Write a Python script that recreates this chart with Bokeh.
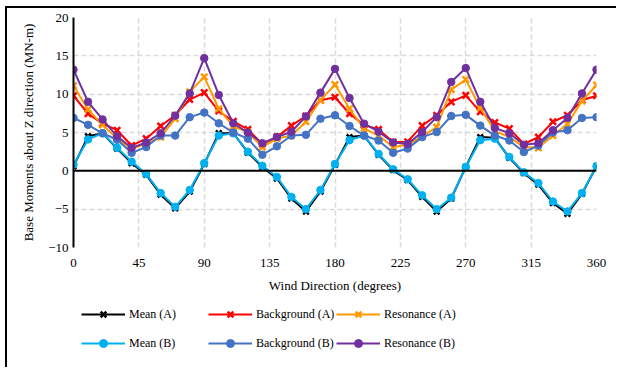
from bokeh.plotting import figure
from bokeh.layouts import column
from bokeh.models import Range1d, FixedTicker, Span, Legend, LegendItem
from bokeh.embed import file_html
from bokeh.resources import INLINE

# Wind direction (degrees)
directions = [0, 10, 20, 30, 40, 50, 60, 70, 80, 90,
              100, 110, 120, 130, 140, 150, 160, 170, 180,
              190, 200, 210, 220, 230, 240, 250, 260, 270,
              280, 290, 300, 310, 320, 330, 340, 350, 360]

# Base moments about Z direction (MN-m)
mean_a = [0.6, 4.5, 4.9, 2.9, 1.0, -0.5, -3.1, -4.9, -2.7, 0.9,
          4.9, 4.9, 2.4, 0.5, -1.0, -3.6, -5.3, -2.7, 0.8,
          4.4, 4.6, 2.1, 0.1, -1.2, -3.4, -5.3, -3.6, 0.5,
          4.4, 4.3, 1.7, -0.3, -1.8, -4.2, -5.6, -3.0, 0.6]
background_a = [9.8, 7.45, 6.15, 5.3, 3.3, 4.2, 5.85, 7.25, 9.3, 10.2,
                7.8, 6.45, 5.4, 3.5, 4.4, 5.9, 7.15, 9.2, 9.6,
                7.45, 6.0, 5.4, 3.75, 3.8, 5.9, 7.25, 9.0, 9.85,
                7.7, 6.3, 5.5, 3.5, 4.4, 6.4, 7.25, 9.2, 9.8]
resonance_a = [11.1, 8.0, 6.0, 4.2, 2.9, 3.5, 4.4, 6.8, 10.3, 12.25,
               8.1, 5.8, 5.05, 3.1, 4.2, 4.6, 6.4, 9.2, 11.25,
               8.1, 5.5, 4.6, 3.1, 3.4, 4.5, 5.7, 10.6, 11.9,
               8.2, 5.2, 4.4, 3.1, 3.0, 4.6, 6.1, 9.1, 11.2]
mean_b = [0.8, 4.1, 4.9, 3.0, 1.2, -0.4, -2.9, -4.7, -2.5, 1.0,
          4.6, 4.9, 2.5, 0.65, -0.8, -3.4, -5.0, -2.5, 0.9,
          4.0, 4.6, 2.2, 0.2, -1.1, -3.2, -5.0, -3.5, 0.5,
          4.0, 4.2, 1.8, -0.2, -1.6, -4.0, -5.3, -2.9, 0.6]
background_b = [6.9, 6.0, 4.9, 4.05, 2.35, 3.1, 4.6, 4.6, 7.0, 7.6,
                6.2, 5.0, 4.2, 2.1, 3.2, 4.6, 4.7, 6.8, 7.25,
                5.85, 4.6, 3.95, 2.35, 2.9, 4.4, 5.05, 7.15, 7.3,
                5.9, 4.6, 3.95, 2.45, 3.3, 5.0, 5.3, 6.9, 7.0]
resonance_b = [13.2, 9.0, 6.7, 4.5, 3.0, 3.7, 4.9, 7.2, 10.1, 14.7,
               9.9, 6.2, 5.0, 3.6, 4.4, 5.1, 7.1, 10.2, 13.3,
               9.5, 6.15, 5.1, 3.7, 3.5, 5.05, 7.0, 11.6, 13.4,
               9.0, 5.6, 4.9, 3.4, 3.6, 5.3, 6.9, 10.1, 13.2]

x_ticks = [0, 45, 90, 135, 180, 225, 270, 315, 360]
y_ticks = [-10, -5, 0, 5, 10, 15, 20]

FONT = "Liberation Serif"

# main chart
p = figure(width=611, height=295, output_backend="svg", toolbar_location=None,
           x_range=Range1d(0, 360), y_range=Range1d(-10, 20),
           min_border_left=66, min_border_right=22,
           min_border_top=9, min_border_bottom=56)
p.background_fill_color = "white"
p.border_fill_color = "white"
p.outline_line_color = None

for g in (p.xgrid, p.ygrid):
    g.grid_line_color = "#D9D9D9"
    g.grid_line_dash = "5 3"
    g.grid_line_width = 1.5
p.xgrid.ticker = FixedTicker(ticks=x_ticks)
p.ygrid.ticker = FixedTicker(ticks=y_ticks)

p.xaxis.ticker = FixedTicker(ticks=x_ticks)
p.yaxis.ticker = FixedTicker(ticks=y_ticks)
p.xaxis.axis_line_color = None
p.yaxis.axis_line_color = "black"
p.yaxis.axis_line_width = 2
for ax in (p.xaxis, p.yaxis):
    ax.major_tick_line_color = None
    ax.minor_tick_line_color = None
    ax.major_tick_out = 0
    ax.major_tick_in = 0
    ax.major_label_text_font = FONT
    ax.major_label_text_font_size = "13px"
    ax.major_label_text_color = "black"
    ax.axis_label_text_font = FONT
    ax.axis_label_text_font_size = "13px"
    ax.axis_label_text_font_style = "normal"
    ax.axis_label_text_color = "black"
p.xaxis.axis_label = "Wind Direction (degrees)"
p.yaxis.axis_label = "Base Moments about Z direction (MN-m)"
p.xaxis.major_label_standoff = 11
p.xaxis.axis_label_standoff = 8
p.yaxis.major_label_standoff = 5
p.yaxis.axis_label_standoff = 9

# zero line
p.add_layout(Span(location=0, dimension="width", line_color="black", line_width=2))

series = [
    ("Mean (A)", mean_a, "black", "x", 8),
    ("Background (A)", background_a, "#FF0000", "x", 9),
    ("Resonance (A)", resonance_a, "#FF9900", "x", 9),
    ("Mean (B)", mean_b, "#00B0F0", "circle", 7.5),
    ("Background (B)", background_b, "#4472C4", "circle", 7.5),
    ("Resonance (B)", resonance_b, "#7030A0", "circle", 7.5),
]


def draw_series(fig, xs, ys, color, marker, size):
    ln = fig.line(xs, ys, line_color=color, line_width=2)
    if marker == "x":
        mk = fig.scatter(xs, ys, marker="x", size=size,
                         line_color=color, line_width=2.5)
    else:
        mk = fig.scatter(xs, ys, marker="circle", size=size,
                         fill_color=color, line_color=color)
    return ln, mk


for name, vals, color, marker, size in series:
    draw_series(p, directions, vals, color, marker, size)

# legend strip under the chart; its range sits above the data so only
# the legend entries are visible here
q = figure(width=611, height=66, output_backend="svg", toolbar_location=None,
           x_axis_location=None, y_axis_location=None,
           x_range=Range1d(0, 360), y_range=Range1d(100, 101),
           min_border=0)
q.background_fill_color = "white"
q.border_fill_color = "white"
q.outline_line_color = None
q.grid.visible = False

col_x = [8, 135, 263]
row_y = [45, 16]
for i, (name, vals, color, marker, size) in enumerate(series):
    ln, mk = draw_series(q, directions, vals, color, marker, size)
    leg = Legend(items=[LegendItem(label=name, renderers=[ln, mk])],
                 location=(col_x[i % 3], row_y[i // 3]),
                 margin=0, padding=0,
                 glyph_width=44, glyph_height=20, label_standoff=4,
                 border_line_color=None, background_fill_alpha=0,
                 label_text_font=FONT, label_text_font_size="12px",
                 label_text_color="black")
    q.add_layout(leg)

# chart-area border on the left and top edges
layout = column(p, q, spacing=0, margin=(8, 0, 0, 7),
                styles={"box-shadow": "-2px -2px 0 0 black"})

open("out.html", "w").write(file_html(layout, INLINE))
